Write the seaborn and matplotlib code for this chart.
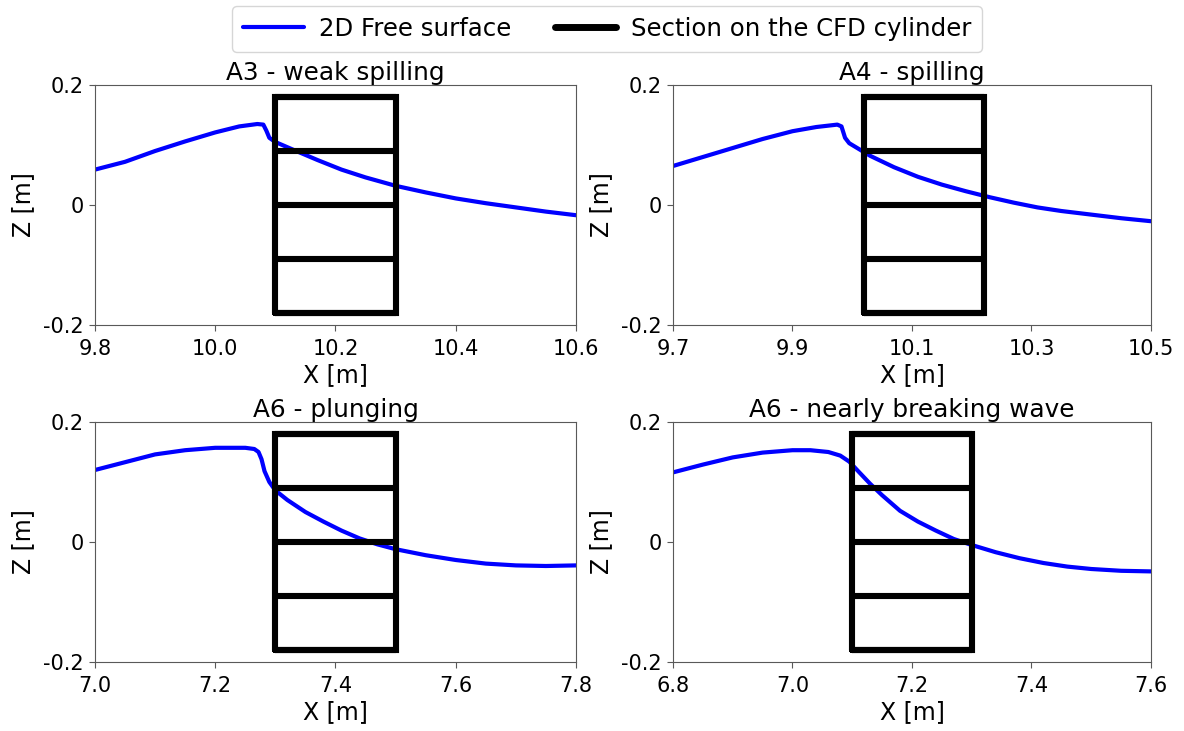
import numpy as np
import pandas as pd
import matplotlib
matplotlib.use("Agg")
import matplotlib.pyplot as plt
from matplotlib.lines import Line2D
import seaborn as sns

# Free-surface profiles (x [m], z [m]) for each wave case
a3_x = [9.80, 9.85, 9.90, 9.95, 10.00, 10.04, 10.07, 10.08, 10.085, 10.09, 10.10,
        10.13, 10.17, 10.21, 10.25, 10.30, 10.35, 10.40, 10.45, 10.50, 10.55, 10.60]
a3_z = [0.059, 0.072, 0.090, 0.106, 0.121, 0.131, 0.135, 0.134, 0.124, 0.112, 0.105,
        0.092, 0.075, 0.059, 0.046, 0.032, 0.021, 0.011, 0.003, -0.004, -0.011, -0.017]

a4_x = [9.70, 9.75, 9.80, 9.85, 9.90, 9.94, 9.975, 9.982, 9.988, 9.995, 10.01,
        10.03, 10.07, 10.11, 10.15, 10.19, 10.23, 10.27, 10.31, 10.35, 10.40, 10.45, 10.50]
a4_z = [0.065, 0.080, 0.095, 0.110, 0.123, 0.130, 0.134, 0.131, 0.112, 0.103, 0.094,
        0.082, 0.063, 0.047, 0.034, 0.023, 0.013, 0.004, -0.004, -0.010, -0.016, -0.022, -0.027]

a6p_x = [7.00, 7.05, 7.10, 7.15, 7.20, 7.25, 7.265, 7.272, 7.277, 7.282, 7.29, 7.30,
         7.32, 7.35, 7.38, 7.41, 7.44, 7.47, 7.50, 7.55, 7.60, 7.65, 7.70, 7.75, 7.80]
a6p_z = [0.120, 0.133, 0.146, 0.153, 0.157, 0.157, 0.155, 0.150, 0.138, 0.118, 0.100, 0.086,
         0.070, 0.050, 0.034, 0.019, 0.006, -0.004, -0.012, -0.022, -0.030, -0.036, -0.039, -0.040, -0.039]

a6n_x = [6.80, 6.85, 6.90, 6.95, 7.00, 7.03, 7.06, 7.08, 7.095, 7.11, 7.13, 7.15,
         7.18, 7.21, 7.24, 7.27, 7.30, 7.34, 7.38, 7.42, 7.46, 7.50, 7.55, 7.60]
a6n_z = [0.116, 0.129, 0.141, 0.149, 0.153, 0.153, 0.150, 0.144, 0.134, 0.118, 0.097, 0.078,
         0.052, 0.034, 0.019, 0.005, -0.005, -0.017, -0.027, -0.035, -0.041, -0.045, -0.048, -0.049]

titles = ["A3 - weak spilling", "A4 - spilling", "A6 - plunging", "A6 - nearly breaking wave"]
profiles_x = [a3_x, a4_x, a6p_x, a6n_x]
profiles_z = [a3_z, a4_z, a6p_z, a6n_z]

# Cylinder section extents (x) and strip levels (z)
section_x = [[10.10, 10.30], [10.02, 10.22], [7.30, 7.50], [7.10, 7.30]]
section_z = [-0.18, -0.09, 0.0, 0.09, 0.18]

x_limits = [[9.8, 10.6], [9.7, 10.5], [7.0, 7.8], [6.8, 7.6]]
x_ticks = [[9.8, 10.0, 10.2, 10.4, 10.6], [9.7, 9.9, 10.1, 10.3, 10.5],
           [7.0, 7.2, 7.4, 7.6, 7.8], [6.8, 7.0, 7.2, 7.4, 7.6]]
y_ticks = [-0.2, 0.0, 0.2]
y_tick_labels = ["-0.2", "0", "0.2"]

sns.set_style("white", {"axes.edgecolor": "0.35", "xtick.bottom": True, "ytick.left": True,
                        "text.color": "black", "axes.labelcolor": "black",
                        "xtick.color": "black", "ytick.color": "black"})
plt.rcParams["font.family"] = ["DejaVu Sans"]

fig = plt.figure(figsize=(11.84, 7.31), dpi=100)
positions = [
    [0.0802, 0.5554, 0.4063, 0.3283],
    [0.5684, 0.5554, 0.4037, 0.3283],
    [0.0802, 0.0944, 0.4063, 0.3283],
    [0.5684, 0.0944, 0.4037, 0.3283],
]

blue = "#0000ff"
for i in range(4):
    ax = fig.add_axes(positions[i])
    df = pd.DataFrame({"x": profiles_x[i], "z": profiles_z[i]})
    sns.lineplot(data=df, x="x", y="z", ax=ax, color=blue, lw=3.0, sort=False, zorder=2)

    x0, x1 = section_x[i]
    ax.hlines(section_z, x0, x1, colors="black", lw=4.4, zorder=3)
    ax.plot([x0, x1, x1, x0, x0],
            [section_z[0], section_z[0], section_z[-1], section_z[-1], section_z[0]],
            color="black", lw=4.4, solid_joinstyle="miter", zorder=3)

    ax.set_xlim(*x_limits[i])
    ax.set_ylim(-0.2, 0.2)
    ax.set_xticks(x_ticks[i])
    ax.set_xticklabels([f"{t:.1f}" for t in x_ticks[i]])
    ax.set_yticks(y_ticks)
    ax.set_yticklabels(y_tick_labels)
    ax.tick_params(axis="both", labelsize=15, length=4, width=0.8, color="0.35", pad=4)
    ax.tick_params(axis="x", pad=6)
    ax.set_xlabel("X [m]", fontsize=17, labelpad=3)
    ax.set_ylabel("Z [m]", fontsize=17, labelpad=6)
    ax.set_title(titles[i], fontsize=17.8, pad=2)
    for sp in ax.spines.values():
        sp.set_linewidth(0.8)

handles = [
    Line2D([], [], color=blue, lw=3.0),
    Line2D([], [], color="black", lw=5.0),
]
fig.legend(handles, ["2D Free surface", "Section on the CFD cylinder"],
           loc="upper center", bbox_to_anchor=(0.5127, 0.992), ncol=2,
           fontsize=17.6, frameon=True, handlelength=2.5, columnspacing=1.8,
           borderpad=0.45, handletextpad=0.6, borderaxespad=0.0, fancybox=True)

fig.savefig("out.png", dpi=100)
